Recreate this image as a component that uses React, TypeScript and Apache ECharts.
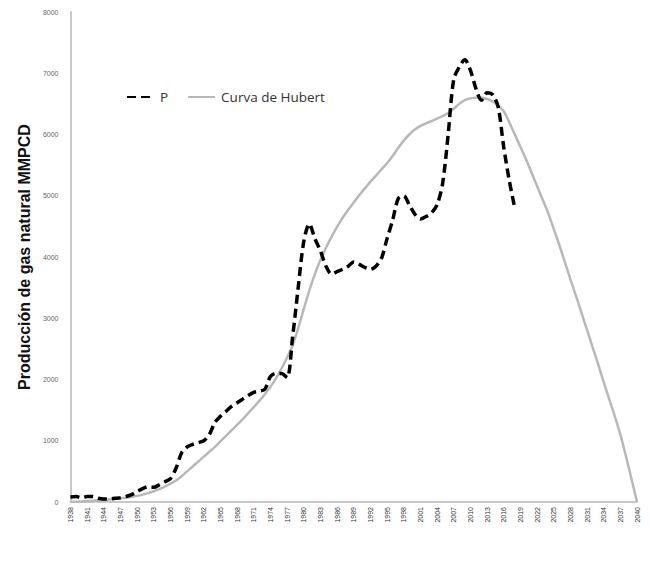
import React, { useEffect, useRef } from "react";
import * as echarts from "echarts";

const startYear = 1938;
const endYear = 2040;
const years: string[] = [];
for (let y = startYear; y <= endYear; y++) years.push(String(y));

// Producción observada (P), 1938-2018, MMPCD
const produccion: number[] = [
  80, 90, 70, 90, 90, 60, 50, 50, 60, 70, // 1938-1947
  90, 120, 170, 220, 250, 240, 280, 330, 380, 550, // 1948-1957
  800, 900, 940, 970, 1000, 1100, 1300, 1400, 1480, 1560, // 1958-1967
  1620, 1680, 1740, 1790, 1810, 1840, 2050, 2100, 2100, 2030, // 1968-1977
  2700, 3500, 4250, 4540, 4300, 4100, 3850, 3720, 3760, 3800, // 1978-1987
  3850, 3920, 3880, 3830, 3800, 3850, 3980, 4300, 4600, 4950, // 1988-1997
  5000, 4850, 4700, 4620, 4660, 4720, 4850, 5200, 6000, 6900, // 1998-2007
  7100, 7220, 7050, 6750, 6560, 6680, 6650, 6450, 5800, 5250, // 2008-2017
  4800, // 2018
];

// Curva de Hubbert, 1938-2040
const hubbert: number[] = [
  0, 5, 10, 15, 20, 25, 30, 40, 50, 60, // 1938-1947
  70, 85, 100, 120, 145, 175, 210, 250, 300, 350, // 1948-1957
  420, 500, 580, 660, 740, 820, 900, 990, 1080, 1170, // 1958-1967
  1260, 1350, 1450, 1550, 1650, 1760, 1880, 2020, 2180, 2360, // 1968-1977
  2560, 2840, 3150, 3450, 3720, 3950, 4150, 4330, 4490, 4640, // 1978-1987
  4770, 4890, 5010, 5120, 5230, 5330, 5430, 5530, 5650, 5780, // 1988-1997
  5900, 6000, 6080, 6140, 6180, 6220, 6260, 6300, 6350, 6420, // 1998-2007
  6500, 6560, 6590, 6600, 6600, 6580, 6540, 6470, 6380, 6200, // 2008-2017
  6000, 5800, 5600, 5380, 5160, 4940, 4720, 4460, 4200, 3920, // 2018-2027
  3640, 3370, 3090, 2810, 2530, 2250, 1960, 1680, 1400, 1100, // 2028-2037
  750, 380, 0, // 2038-2040
];

const yTicks = { min: 0, max: 8000, interval: 1000 };

export default function App() {
  const ref = useRef<HTMLDivElement>(null);
  useEffect(() => {
    if (!ref.current) return;
    const chart = echarts.init(ref.current, undefined, { renderer: "svg" });
    const pData = years.map((_, i) => (i < produccion.length ? produccion[i] : null));
    chart.setOption({
      animation: false,
      backgroundColor: "#ffffff",
      grid: { left: 55, right: 5, top: 4, bottom: 58 },
      legend: {
        left: 113,
        top: 77,
        itemWidth: 27,
        itemHeight: 14,
        itemGap: 19,
        itemStyle: { opacity: 0 },
        textStyle: { fontFamily: "Open Sans", fontSize: 13.5, color: "#333", padding: [0, 0, 0, 1] },
        data: ["P", "Curva de Hubert"],
      },
      xAxis: {
        type: "category",
        data: years,
        boundaryGap: false,
        axisLine: { lineStyle: { color: "#c8c8c8", width: 2 } },
        axisTick: { show: false },
        axisLabel: {
          interval: 2,
          rotate: 90,
          fontSize: 7,
          color: "#333",
          fontFamily: "Liberation Sans",
          margin: 5,
        },
        splitLine: { show: false },
      },
      yAxis: {
        type: "value",
        min: yTicks.min,
        max: yTicks.max,
        interval: yTicks.interval,
        name: "Producción de gas natural MMPCD",
        nameLocation: "middle",
        nameGap: 33,
        nameTextStyle: {
          fontFamily: "Liberation Sans",
          fontSize: 16,
          fontWeight: "bold",
          color: "#111",
        },
        axisLine: { show: true, lineStyle: { color: "#c8c8c8", width: 2 } },
        axisTick: { show: false },
        axisLabel: {
          fontSize: 7,
          color: "#666",
          fontFamily: "Liberation Sans",
          margin: 12,
          formatter: (v: number) => String(v),
        },
        splitLine: { show: false },
      },
      series: [
        {
          name: "P",
          type: "line",
          data: pData,
          smooth: 0.3,
          showSymbol: false,
          symbol: "none",
          connectNulls: false,
          lineStyle: { color: "#000", width: 3.5, type: [9, 5] },
          itemStyle: { color: "#000" },
          z: 3,
        },
        {
          name: "Curva de Hubert",
          type: "line",
          data: hubbert,
          smooth: 0.4,
          showSymbol: false,
          symbol: "none",
          lineStyle: { color: "#b8b8b8", width: 2.5 },
          itemStyle: { color: "#b8b8b8" },
          z: 2,
        },
      ],
    });
    return () => chart.dispose();
  }, []);
  return <div ref={ref} style={{ width: 634, height: 552 }} />;
}
